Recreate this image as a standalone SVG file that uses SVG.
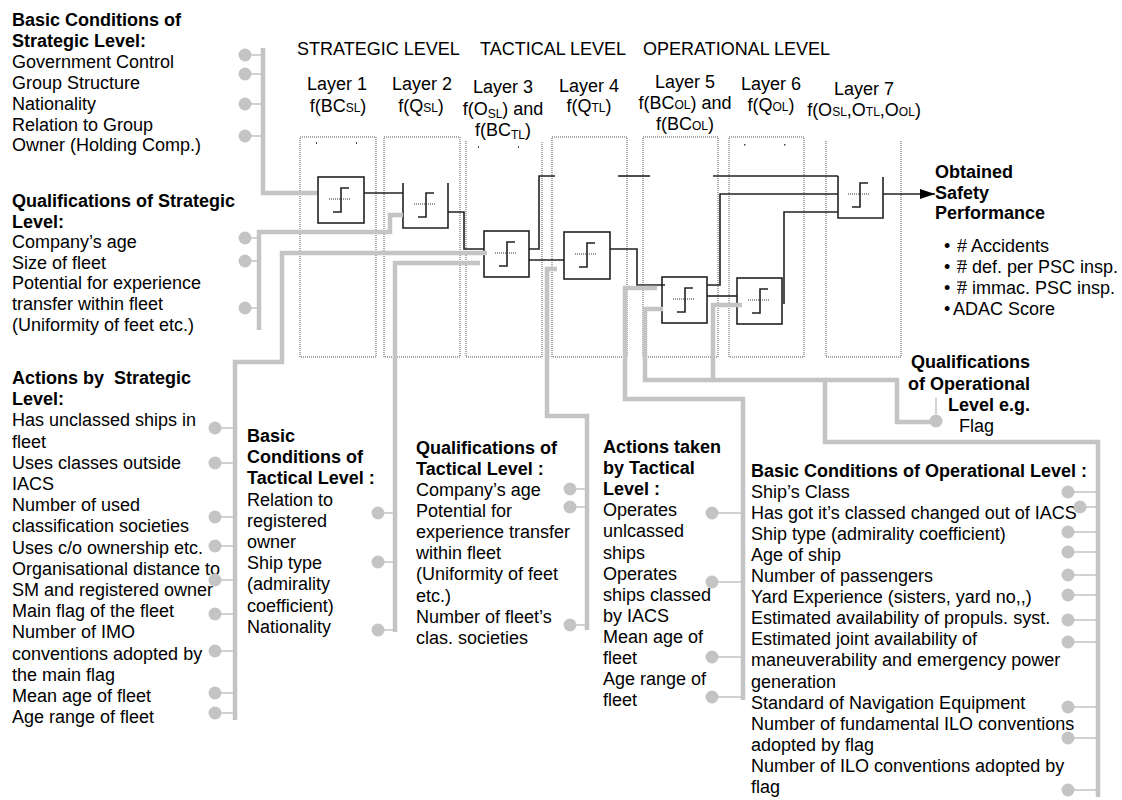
<svg xmlns="http://www.w3.org/2000/svg" xmlns:xlink="http://www.w3.org/1999/xlink" width="1122" height="800" viewBox="0 0 1122 800">
<style>
.t{font-family:"Liberation Sans",Arial,sans-serif;font-size:18px;fill:#000}
.b{font-weight:bold}
.s{font-size:12px}
.col{fill:none;stroke:#555;stroke-width:1;stroke-dasharray:1 1}
.box{fill:none;stroke:#222;stroke-width:1.6}
.blk{fill:none;stroke:#222;stroke-width:1.6}
.gry{fill:none;stroke:#c4c4c4;stroke-width:4.5}
.stub{stroke:#c4c4c4;stroke-width:1.5}
.dot{fill:#c4c4c4}
.dash{stroke:#333;stroke-width:1;stroke-dasharray:1 1}
.mk{fill:#444}
</style>
<defs>
<g id="step"><line x1="11" y1="22" x2="33" y2="22" class="dash"/><path d="M15,35 H23 V11 H31" class="blk"/></g>
<marker id="arr" viewBox="0 0 15 10" refX="15" refY="5" markerWidth="15" markerHeight="10" markerUnits="userSpaceOnUse" orient="auto"><path d="M0,0 L15,5 L0,10 z" fill="#000"/></marker>
</defs>
<rect width="1122" height="800" fill="#fff"/>

<g id="header" class="t">
<text x="297" y="55">STRATEGIC LEVEL</text>
<text x="480" y="55">TACTICAL LEVEL</text>
<text x="643" y="55">OPERATIONAL LEVEL</text>
</g>

<g id="layer1"><rect x="300" y="137" width="76" height="220" class="col"/>
<text class="t" text-anchor="middle" x="337" y="90">Layer 1</text>
<text class="t" text-anchor="middle" x="338" y="112">f(BC<tspan class="s">SL</tspan>)</text>
<rect x="316" y="142" width="1" height="2" class="mk"/><rect x="356" y="142" width="1" height="2" class="mk"/></g>
<g id="layer2"><rect x="384" y="137" width="76" height="220" class="col"/>
<text class="t" text-anchor="middle" x="422" y="90">Layer 2</text>
<text class="t" text-anchor="middle" x="421" y="112">f(Q<tspan class="s">SL</tspan>)</text></g>
<g id="layer3"><path d="M466,141 V357 H542 V141" class="col"/>
<text class="t" text-anchor="middle" x="503" y="93">Layer 3</text>
<text class="t" text-anchor="middle" x="503" y="115">f(O<tspan class="s" dy="3">SL</tspan><tspan dy="-3">) and</tspan></text>
<text class="t" text-anchor="middle" x="503" y="136">f(BC<tspan class="s" dy="3">TL</tspan><tspan dy="-3">)</tspan></text>
<rect x="478" y="146" width="1" height="2" class="mk"/><rect x="518" y="146" width="1" height="2" class="mk"/></g>
<g id="layer4"><rect x="552" y="137" width="75" height="220" class="col"/>
<text class="t" text-anchor="middle" x="589" y="92">Layer 4</text>
<text class="t" text-anchor="middle" x="589" y="112">f(Q<tspan class="s">TL</tspan>)</text></g>
<g id="layer5"><rect x="643" y="137" width="75" height="220" class="col"/>
<text class="t" text-anchor="middle" x="685" y="88">Layer 5</text>
<text class="t" text-anchor="middle" x="685" y="109">f(BC<tspan class="s">OL</tspan>) and</text>
<text class="t" text-anchor="middle" x="685" y="130">f(BC<tspan class="s">OL</tspan>)</text></g>
<g id="layer6"><rect x="729" y="137" width="75" height="220" class="col"/>
<text class="t" text-anchor="middle" x="771" y="90">Layer 6</text>
<text class="t" text-anchor="middle" x="771" y="111">f(Q<tspan class="s">OL</tspan>)</text>
<rect x="744" y="144" width="1.5" height="1.5" class="mk"/><rect x="784" y="144" width="1.5" height="1.5" class="mk"/></g>
<g id="layer7"><path d="M826,141 V357 H901 V141" class="col"/>
<text class="t" text-anchor="middle" x="864" y="95">Layer 7</text>
<text class="t" text-anchor="middle" x="864" y="116">f(O<tspan class="s">SL</tspan>,O<tspan class="s">TL</tspan>,O<tspan class="s">OL</tspan>)</text></g>

<g id="box1"><rect x="318" y="177" width="46" height="46" class="box"/><use xlink:href="#step" href="#step" transform="translate(318,177)"/></g>
<g id="box2"><path d="M403,183 V228 H448 V183" class="box"/><use xlink:href="#step" href="#step" transform="translate(403,182)"/></g>
<g id="box3"><rect x="484" y="231" width="45" height="46" class="box"/><use xlink:href="#step" href="#step" transform="translate(484,231)"/></g>
<g id="box4"><rect x="564" y="232" width="46" height="47" class="box"/><use xlink:href="#step" href="#step" transform="translate(564,232)"/></g>
<g id="box5"><rect x="662" y="277" width="45" height="46" class="box"/><use xlink:href="#step" href="#step" transform="translate(662,277)"/></g>
<g id="box6"><rect x="737" y="278" width="45" height="46" class="box"/><use xlink:href="#step" href="#step" transform="translate(737,278)"/></g>
<g id="box7"><path d="M838,176 V218 H883 V177" class="box"/><use xlink:href="#step" href="#step" transform="translate(837,172)"/></g>

<g id="connectors">
<path d="M364,193 H403" class="blk"/>
<path d="M448,212 H464 V249 H484" class="blk"/>
<path d="M529,260 H564" class="blk"/>
<path d="M529,249 H539 V176 H555" class="blk"/>
<path d="M618,176 H650" class="blk"/>
<path d="M713,176 H838" class="blk"/>
<path d="M610,249 H637 V285 H665" class="blk"/>
<path d="M707,285 H720 V194 H838" class="blk"/>
<path d="M707,296 H737" class="blk"/>
<path d="M784,304 V212 H838" class="blk"/>
<path d="M883,194 H935" class="blk" marker-end="url(#arr)"/>
<path d="M263,48 V193 H317" class="gry"/>
<path d="M259,330 V232 H390 V215 H403" class="gry"/>
<path d="M235,720 V362 H282 V253 H487" class="gry"/>
<path d="M395,632 V263 H480" class="gry"/>
<path d="M587,630 V416 H547 V269 H557" class="gry"/>
<path d="M743,700 V399 H625 V288 H657" class="gry"/>
<path d="M1098,797 V442 H825 V380 H645 V309 H663" class="gry"/>
<path d="M825,380 H897 V422 H936" class="gry"/>
<path d="M713,380 V305 H742" class="gry"/>
</g>

<g id="bc-strategic">
<text class="t" x="12" y="26"><tspan class="b">Basic Conditions of</tspan><tspan class="b" x="12" dy="20.9">Strategic Level:</tspan><tspan x="12" dy="20.9">Government Control</tspan><tspan x="12" dy="20.9">Group Structure</tspan><tspan x="12" dy="20.9">Nationality</tspan><tspan x="12" dy="20.9">Relation to Group</tspan><tspan x="12" dy="20.9">Owner (Holding Comp.)</tspan></text>
<path d="M251,55 H263 M251,74 H263 M251,104 H263 M251,136 H263" class="stub"/>
<circle cx="245" cy="55" r="6.5" class="dot"/><circle cx="245" cy="74" r="6.5" class="dot"/><circle cx="245" cy="104" r="6.5" class="dot"/><circle cx="245" cy="136" r="6.5" class="dot"/>
</g>

<g id="q-strategic">
<text class="t" x="12" y="207"><tspan class="b">Qualifications of Strategic</tspan><tspan class="b" x="12" dy="20.6">Level:</tspan><tspan x="12" dy="20.6">Company’s age</tspan><tspan x="12" dy="20.6">Size of fleet</tspan><tspan x="12" dy="20.6">Potential for experience</tspan><tspan x="12" dy="20.6">transfer within fleet</tspan><tspan x="12" dy="20.6">(Uniformity of feet etc.)</tspan></text>
<path d="M251,238 H259 M251,261 H259 M251,308 H259" class="stub"/>
<circle cx="245" cy="238" r="6.5" class="dot"/><circle cx="245" cy="261" r="6.5" class="dot"/><circle cx="245" cy="308" r="6.5" class="dot"/>
</g>

<g id="a-strategic">
<text class="t" x="12" y="384"><tspan class="b">Actions by&#160; Strategic</tspan><tspan class="b" x="12" dy="21.2">Level:</tspan><tspan x="12" dy="21.2">Has unclassed ships in</tspan><tspan x="12" dy="21.2">fleet</tspan><tspan x="12" dy="21.2">Uses classes outside</tspan><tspan x="12" dy="21.2">IACS</tspan><tspan x="12" dy="21.2">Number of used</tspan><tspan x="12" dy="21.2">classification societies</tspan><tspan x="12" dy="21.2">Uses c/o ownership etc.</tspan><tspan x="12" dy="21.2">Organisational distance to</tspan><tspan x="12" dy="21.2">SM and registered owner</tspan><tspan x="12" dy="21.2">Main flag of the fleet</tspan><tspan x="12" dy="21.2">Number of IMO</tspan><tspan x="12" dy="21.2">conventions adopted by</tspan><tspan x="12" dy="21.2">the main flag</tspan><tspan x="12" dy="21.2">Mean age of fleet</tspan><tspan x="12" dy="21.2">Age range of fleet</tspan></text>
<path d="M221,428 H235 M221,463 H235 M221,517 H235 M221,546 H235 M221,580 H235 M221,614 H235 M221,651 H235 M221,693 H235 M221,713 H235" class="stub"/>
<circle cx="215" cy="428" r="6.5" class="dot"/><circle cx="215" cy="463" r="6.5" class="dot"/><circle cx="215" cy="517" r="6.5" class="dot"/><circle cx="215" cy="546" r="6.5" class="dot"/><circle cx="215" cy="580" r="6.5" class="dot"/><circle cx="215" cy="614" r="6.5" class="dot"/><circle cx="215" cy="651" r="6.5" class="dot"/><circle cx="215" cy="693" r="6.5" class="dot"/><circle cx="215" cy="713" r="6.5" class="dot"/>
</g>

<g id="bc-tactical">
<text class="t" x="247" y="442"><tspan class="b">Basic</tspan><tspan class="b" x="247" dy="21.2">Conditions of</tspan><tspan class="b" x="247" dy="21.2">Tactical Level :</tspan><tspan x="247" dy="21.2">Relation to</tspan><tspan x="247" dy="21.2">registered</tspan><tspan x="247" dy="21.2">owner</tspan><tspan x="247" dy="21.2">Ship type</tspan><tspan x="247" dy="21.2">(admirality</tspan><tspan x="247" dy="21.2">coefficient)</tspan><tspan x="247" dy="21.2">Nationality</tspan></text>
<path d="M384,513 H395 M384,562 H395 M384,630 H395" class="stub"/>
<circle cx="378" cy="513" r="6.5" class="dot"/><circle cx="378" cy="562" r="6.5" class="dot"/><circle cx="378" cy="630" r="6.5" class="dot"/>
</g>

<g id="q-tactical">
<text class="t" x="416" y="453.5"><tspan class="b">Qualifications of</tspan><tspan class="b" x="416" dy="21.15">Tactical Level :</tspan><tspan x="416" dy="21.15">Company’s age</tspan><tspan x="416" dy="21.15">Potential for</tspan><tspan x="416" dy="21.15">experience transfer</tspan><tspan x="416" dy="21.15">within fleet</tspan><tspan x="416" dy="21.15">(Uniformity of feet</tspan><tspan x="416" dy="21.15">etc.)</tspan><tspan x="416" dy="21.15">Number of fleet’s</tspan><tspan x="416" dy="21.15">clas. societies</tspan></text>
<path d="M576,489 H587 M576,507 H587 M576,625 H587" class="stub"/>
<circle cx="570" cy="489" r="6.5" class="dot"/><circle cx="570" cy="507" r="6.5" class="dot"/><circle cx="570" cy="625" r="6.5" class="dot"/>
</g>

<g id="a-tactical">
<text class="t" x="603" y="453"><tspan class="b">Actions taken</tspan><tspan class="b" x="603" dy="21.1">by Tactical</tspan><tspan class="b" x="603" dy="21.1">Level :</tspan><tspan x="603" dy="21.1">Operates</tspan><tspan x="603" dy="21.1">unlcassed</tspan><tspan x="603" dy="21.1">ships</tspan><tspan x="603" dy="21.1">Operates</tspan><tspan x="603" dy="21.1">ships classed</tspan><tspan x="603" dy="21.1">by IACS</tspan><tspan x="603" dy="21.1">Mean age of</tspan><tspan x="603" dy="21.1">fleet</tspan><tspan x="603" dy="21.1">Age range of</tspan><tspan x="603" dy="21.1">fleet</tspan></text>
<path d="M718,513 H743 M718,582 H743 M718,657 H743 M718,697 H743" class="stub"/>
<circle cx="712" cy="513" r="6.5" class="dot"/><circle cx="712" cy="582" r="6.5" class="dot"/><circle cx="712" cy="657" r="6.5" class="dot"/><circle cx="712" cy="697" r="6.5" class="dot"/>
</g>

<g id="bc-operational">
<text class="t" x="751" y="477"><tspan class="b">Basic Conditions of Operational Level :</tspan><tspan x="751" dy="21.05">Ship’s Class</tspan><tspan x="751" dy="21.05">Has got it’s classed changed out of IACS</tspan><tspan x="751" dy="21.05">Ship type (admirality coefficient)</tspan><tspan x="751" dy="21.05">Age of ship</tspan><tspan x="751" dy="21.05">Number of passengers</tspan><tspan x="751" dy="21.05">Yard Experience (sisters, yard no,,)</tspan><tspan x="751" dy="21.05">Estimated availability of propuls. syst.</tspan><tspan x="751" dy="21.05">Estimated joint availability of</tspan><tspan x="751" dy="21.05">maneuverability and emergency power</tspan><tspan x="751" dy="21.05">generation</tspan><tspan x="751" dy="21.05">Standard of Navigation Equipment</tspan><tspan x="751" dy="21.05">Number of fundamental ILO conventions</tspan><tspan x="751" dy="21.05">adopted by flag</tspan><tspan x="751" dy="21.05">Number of ILO conventions adopted by</tspan><tspan x="751" dy="21.05">flag</tspan></text>
<path d="M1074,492 H1098 M1086,507 H1098 M1074,532 H1098 M1074,552 H1098 M1074,575 H1098 M1074,595 H1098 M1074,620 H1098 M1074,642 H1098 M1074,707 H1098 M1074,738 H1098 M1074,790 H1098" class="stub"/>
<circle cx="1068" cy="492" r="6.5" class="dot"/><circle cx="1080" cy="507" r="6.5" class="dot"/><circle cx="1068" cy="532" r="6.5" class="dot"/><circle cx="1068" cy="552" r="6.5" class="dot"/><circle cx="1068" cy="575" r="6.5" class="dot"/><circle cx="1068" cy="595" r="6.5" class="dot"/><circle cx="1068" cy="620" r="6.5" class="dot"/><circle cx="1068" cy="642" r="6.5" class="dot"/><circle cx="1068" cy="707" r="6.5" class="dot"/><circle cx="1068" cy="738" r="6.5" class="dot"/><circle cx="1068" cy="790" r="6.5" class="dot"/>
</g>

<g id="q-operational">
<text class="t b" x="911" y="368">Qualifications</text>
<text class="t b" x="908" y="390">of Operational</text>
<text class="t b" x="948" y="411">Level e.g.</text>
<text class="t" x="959" y="432">Flag</text>
<line x1="936" y1="398" x2="936" y2="414" class="stub"/>
<circle cx="936" cy="421" r="6.5" class="dot"/>
</g>

<g id="performance">
<text class="t b" x="935" y="178"><tspan>Obtained</tspan><tspan x="935" dy="20.5">Safety</tspan><tspan x="935" dy="20.5">Performance</tspan></text>
<text class="t" x="944" y="252">•</text><text class="t" x="957" y="252"># Accidents</text>
<text class="t" x="944" y="273">•</text><text class="t" x="957" y="273"># def. per PSC insp.</text>
<line x1="957" y1="261" x2="966" y2="261" stroke="#000" stroke-width="1"/>
<text class="t" x="944" y="294">•</text><text class="t" x="957" y="294"># immac. PSC insp.</text>
<line x1="957" y1="282" x2="966" y2="282" stroke="#000" stroke-width="1"/>
<text class="t" x="944" y="315">•</text><text class="t" x="953" y="315">ADAC Score</text>
</g>
</svg>
